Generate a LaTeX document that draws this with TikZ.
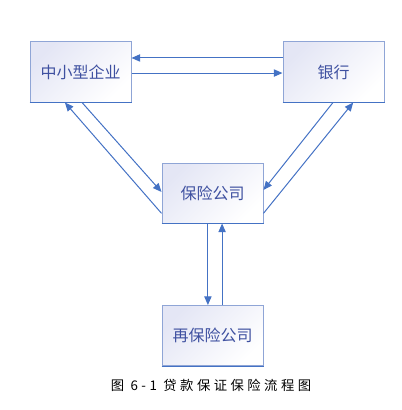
\documentclass[tikz,border=0pt]{standalone}
\usepackage{fontspec}
\setmainfont{Noto Sans CJK SC}
\newfontfamily\cjk{Noto Sans CJK SC}
\newfontfamily\capfont[LetterSpace=26]{Noto Sans CJK SC}
\usetikzlibrary{arrows.meta,calc}
\definecolor{txtblue}{RGB}{62,80,160}
\definecolor{edgeblue}{RGB}{143,165,214}
\definecolor{darkedge}{RGB}{68,114,196}
\definecolor{arrowblue}{RGB}{68,114,196}
\definecolor{lav}{RGB}{228,230,245}
\begin{document}
\begin{tikzpicture}[x=0.75pt,y=-0.75pt,
  box/.style={draw=edgeblue,line width=0.75pt,top color=lav,bottom color=white,shading angle=45,
    minimum width=75.75pt,minimum height=45pt,inner sep=0pt,
    font=\cjk\fontsize{12pt}{14pt}\selectfont,text=txtblue},
  conn/.style={draw=arrowblue,line width=0.75pt,-{Triangle[length=6.5pt,width=5.5pt]}}]
\useasboundingbox (0,0) rectangle (401,410);
\node[box] (ent) at (80.5,72) {中小型企业};
\node[box] (bank) at (333.5,72) {银行};
\node[box] (ins) at (212.5,193) {保险公司};
\node[box] (re) at (212.5,335.5) {再保险公司};
\foreach \n in {ent,bank,ins,re}{
  \draw[darkedge,line width=0.75pt] (\n.south west) -- (\n.south east);
}
% top pair
\draw[conn] ($(bank.north west)!0.27!(bank.south west)$) -- ($(ent.north east)!0.27!(ent.south east)$);
\draw[conn] ($(ent.north east)!0.517!(ent.south east)$) -- ($(bank.north west)!0.517!(bank.south west)$);
% left pair
\draw[conn] ($(ins.north west)!0.833!(ins.south west)$) -- ($(ent.south west)!0.347!(ent.south east)$);
\draw[conn] ($(ent.south west)!0.515!(ent.south east)$) -- ($(ins.north west)!0.483!(ins.south west)$);
% right pair
\draw[conn] ($(bank.south west)!0.495!(bank.south east)$) -- ($(ins.north east)!0.45!(ins.south east)$);
\draw[conn] ($(ins.north east)!0.833!(ins.south east)$) -- ($(bank.south west)!0.693!(bank.south east)$);
% vertical pair
\draw[conn] ($(ins.south west)!0.455!(ins.south east)$) -- ($(re.north west)!0.455!(re.north east)$);
\draw[conn] ($(re.north west)!0.594!(re.north east)$) -- ($(ins.south west)!0.594!(ins.south east)$);
\node[font=\capfont\fontsize{10pt}{12pt}\selectfont,text=black] (cap) at (211,385) {图 6-1 贷款保证保险流程图};
\end{tikzpicture}
\end{document}
